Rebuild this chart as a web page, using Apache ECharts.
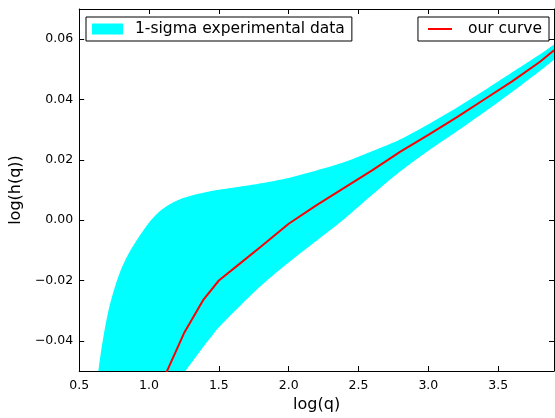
<!DOCTYPE html>
<html>
<head>
<meta charset="utf-8">
<script src="https://cdn.jsdelivr.net/npm/echarts@6/dist/echarts.min.js"></script>
<style>
html,body{margin:0;padding:0;background:#fff;}
#chart{width:555px;height:418px;}
</style>
</head>
<body>
<div id="chart"></div>
<script>
// Band (1-sigma experimental data): x, upper edge, lower edge
const bandX = [0.6, 0.65, 0.7, 0.75, 0.8, 0.85, 0.9, 0.95, 1.0, 1.05, 1.1, 1.15, 1.2, 1.25, 1.3, 1.35, 1.4, 1.45, 1.5, 1.65, 1.8, 2.0, 2.2, 2.4, 2.6, 2.8, 3.0, 3.2, 3.4, 3.6, 3.8, 3.9];
const bandUpper = [-0.064, -0.0455, -0.032, -0.023, -0.0163, -0.0114, -0.0075, -0.0040, -0.0008, 0.0018, 0.0038, 0.0053, 0.0065, 0.0074, 0.0081, 0.0087, 0.0092, 0.0097, 0.0101, 0.0111, 0.0122, 0.0140, 0.0165, 0.0193, 0.0229, 0.0268, 0.0318, 0.0372, 0.0430, 0.0490, 0.0550, 0.0582];
const bandLower = [-0.096, -0.093, -0.089, -0.086, -0.082, -0.079, -0.075, -0.072, -0.068, -0.0645, -0.061, -0.0575, -0.054, -0.0507, -0.0475, -0.0444, -0.0413, -0.0384, -0.0355, -0.0285, -0.0218, -0.0140, -0.0068, 0.0005, 0.0085, 0.0162, 0.0230, 0.0293, 0.0358, 0.0425, 0.0495, 0.0532];
// Our curve
const curveX = [1.10, 1.25, 1.39, 1.50, 1.65, 1.80, 2.0, 2.2, 2.4, 2.6, 2.8, 3.0, 3.2, 3.4, 3.6, 3.8, 3.9];
const curveY = [-0.053, -0.0375, -0.0263, -0.0200, -0.0144, -0.0088, -0.0012, 0.0050, 0.0108, 0.0166, 0.0227, 0.0283, 0.0340, 0.0400, 0.0460, 0.0525, 0.0563];
// Ticks
const xTicks = [0.5, 1.0, 1.5, 2.0, 2.5, 3.0, 3.5];
const yTicks = [-0.04, -0.02, 0.0, 0.02, 0.04, 0.06];

const FONT = 'DejaVu Sans';
const chart = echarts.init(document.getElementById('chart'), null, {renderer: 'canvas'});

const axisLineStyle = {onZero: false, lineStyle: {color: '#000', width: 1}};
const tickStyle = {inside: true, length: 5, lineStyle: {color: '#000', width: 1}};

// Catmull-Rom smoothing of pixel points (rendering only)
function smoothPts(p) {
  const out = [];
  const n = p.length;
  for (let i = 0; i < n - 1; i++) {
    const p0 = p[Math.max(i - 1, 0)], p1 = p[i], p2 = p[i + 1], p3 = p[Math.min(i + 2, n - 1)];
    const steps = 10;
    for (let s = 0; s < steps; s++) {
      const t = s / steps, t2 = t * t, t3 = t2 * t;
      const f = (a, b, c, d) => 0.5 * ((2 * b) + (-a + c) * t + (2 * a - 5 * b + 4 * c - d) * t2 + (-a + 3 * b - 3 * c + d) * t3);
      out.push([f(p0[0], p1[0], p2[0], p3[0]), f(p0[1], p1[1], p2[1], p3[1])]);
    }
  }
  out.push(p[n - 1]);
  return out;
}

const option = {
  animation: false,
  backgroundColor: '#fff',
  grid: {left: 79, right: 1, top: 9, bottom: 40, containLabel: false},
  legend: [
    {
      data: [{name: '1-sigma experimental data', icon: 'rect', itemStyle: {color: '#00ffff', borderWidth: 0}}],
      left: 86, top: 17,
      itemWidth: 31, itemHeight: 11,
      padding: [4, 7, 4, 6],
      borderColor: '#000', borderWidth: 1, borderRadius: 0,
      backgroundColor: '#fff',
      selectedMode: false,
      textStyle: {fontFamily: FONT, fontSize: 15.5, color: '#000', padding: [0, 0, 0, 7]}
    },
    {
      data: [{name: 'our curve', icon: 'rect', itemStyle: {color: '#ff0000', borderWidth: 0}}],
      right: 6, top: 17,
      itemWidth: 24, itemHeight: 2,
      padding: [4, 7, 4, 10],
      borderColor: '#000', borderWidth: 1, borderRadius: 0,
      backgroundColor: '#fff',
      selectedMode: false,
      textStyle: {fontFamily: FONT, fontSize: 15.5, color: '#000', padding: [0, 0, 0, 11]}
    }
  ],
  xAxis: [
    {
      type: 'value', min: 0.5, max: 3.9, position: 'bottom',
      axisLine: axisLineStyle,
      axisTick: Object.assign({customValues: xTicks}, tickStyle),
      axisLabel: {customValues: xTicks, color: '#000', fontFamily: FONT, fontSize: 12.5, margin: 8,
        formatter: v => v.toFixed(1)},
      splitLine: {show: false},
      name: 'log(q)', nameLocation: 'middle', nameGap: 26,
      nameTextStyle: {fontFamily: FONT, fontSize: 16, color: '#000'}
    },
    {
      type: 'value', min: 0.5, max: 3.9, position: 'top',
      axisLine: axisLineStyle,
      axisTick: Object.assign({customValues: xTicks}, tickStyle),
      axisLabel: {show: false},
      splitLine: {show: false}
    }
  ],
  yAxis: [
    {
      type: 'value', min: -0.05, max: 0.07, position: 'left',
      axisLine: Object.assign({show: true}, axisLineStyle),
      axisTick: Object.assign({show: true, customValues: yTicks}, tickStyle),
      axisLabel: {customValues: yTicks, color: '#000', fontFamily: FONT, fontSize: 12.5, margin: 6,
        formatter: v => v.toFixed(2).replace('-', '\u2212')},
      splitLine: {show: false},
      name: 'log(h(q))', nameLocation: 'middle', nameGap: 34, nameRotate: 90,
      nameTextStyle: {fontFamily: FONT, fontSize: 16, color: '#000'}
    },
    {
      type: 'value', min: -0.05, max: 0.07, position: 'right',
      axisLine: Object.assign({show: true}, axisLineStyle),
      axisTick: Object.assign({show: true, customValues: yTicks}, tickStyle),
      axisLabel: {show: false},
      splitLine: {show: false}
    }
  ],
  series: [
    {
      name: '1-sigma experimental data', type: 'custom', clip: true,
      xAxisIndex: 0, yAxisIndex: 0,
      data: bandX.map((x, i) => [x, bandUpper[i], bandLower[i]]),
      encode: {x: 0, y: [1, 2]},
      itemStyle: {color: '#00ffff'},
      silent: true, z: 1,
      renderItem: function (params, api) {
        if (params.dataIndex !== 0) return null;
        const up = bandX.map((x, i) => api.coord([x, bandUpper[i]]));
        const lo = bandX.map((x, i) => api.coord([x, bandLower[i]]));
        const pts = smoothPts(up).concat(smoothPts(lo).reverse());
        return {type: 'polygon', shape: {points: pts}, style: {fill: '#00ffff', stroke: null}};
      }
    },
    {
      name: 'our curve', type: 'line',
      xAxisIndex: 0, yAxisIndex: 0,
      data: curveX.map((x, i) => [x, curveY[i]]),
      symbol: 'none', smooth: false, silent: true,
      lineStyle: {color: '#ff0000', width: 2},
      itemStyle: {color: '#ff0000'}, z: 3
    }
  ]
};
chart.setOption(option);
</script>
</body>
</html>
